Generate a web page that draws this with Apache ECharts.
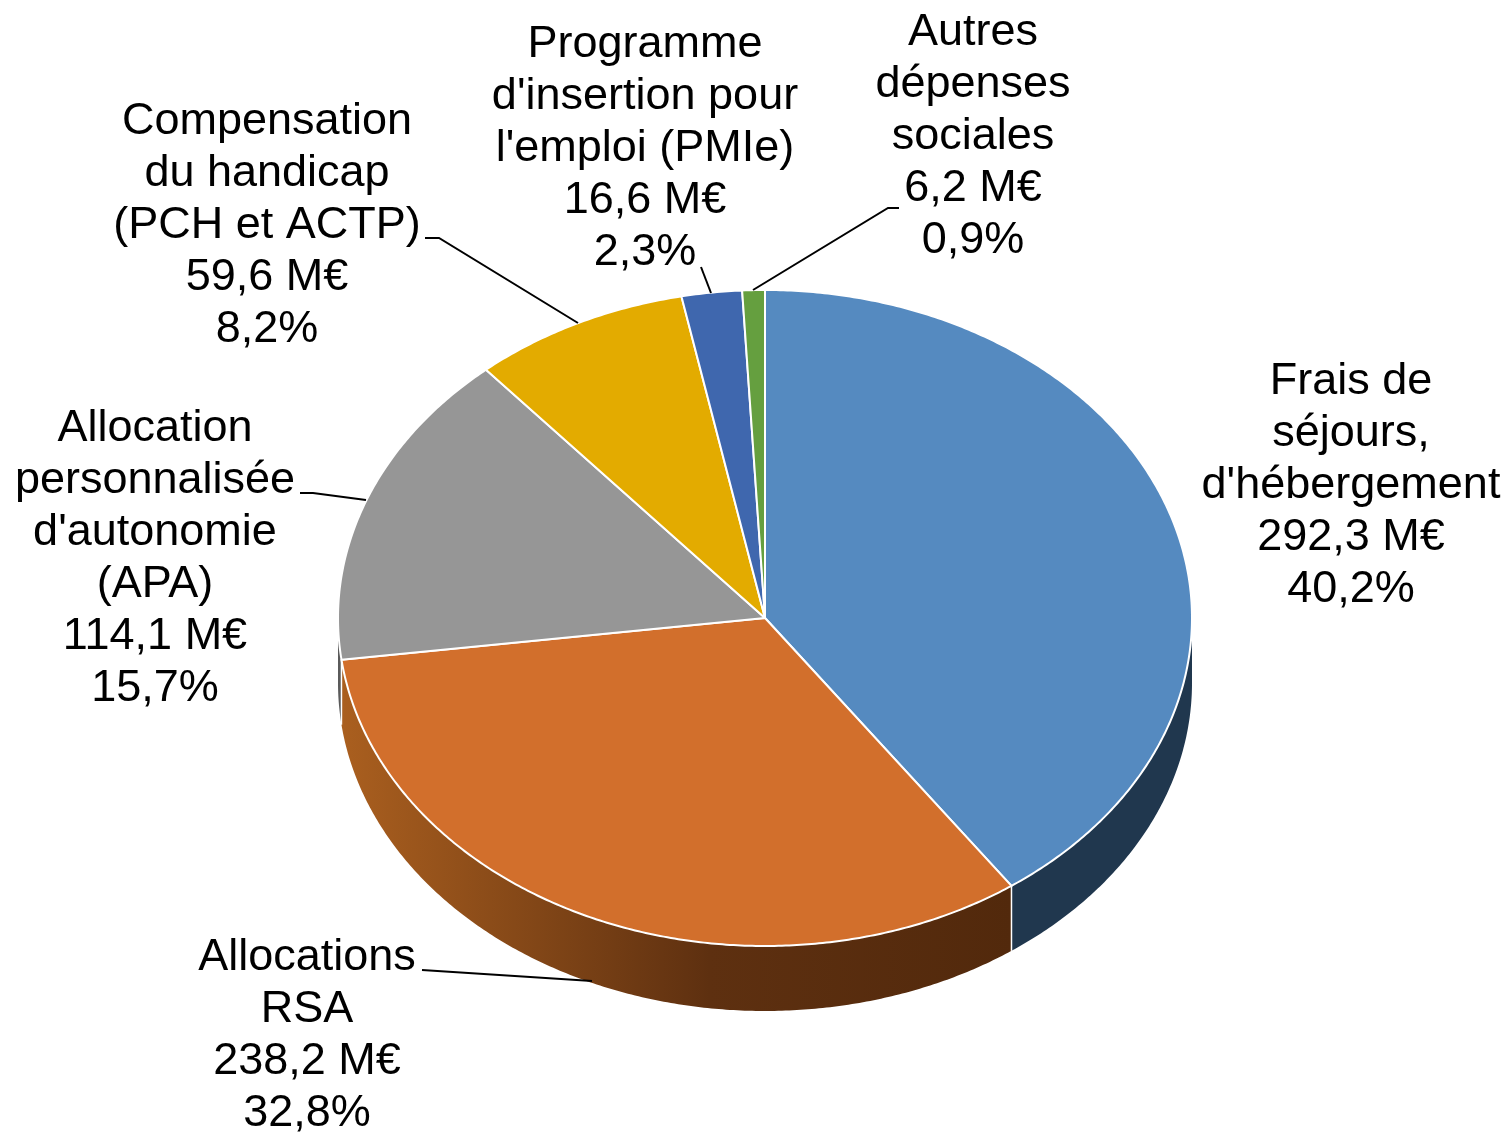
<!DOCTYPE html>
<html>
<head>
<meta charset="utf-8">
<title>Dépenses sociales</title>
<style>
  html, body { margin: 0; padding: 0; background: #fff; }
  #chart { width: 1506px; height: 1132px; }
</style>
<script src="https://cdn.jsdelivr.net/npm/echarts@6/dist/echarts.min.js"></script>
</head>
<body>
<div id="chart"></div>
<script>
const names = [
  "Frais de\nséjours,\nd'hébergement",
  'Allocations\nRSA',
  "Allocation\npersonnalisée\nd'autonomie\n(APA)",
  'Compensation\ndu handicap\n(PCH et ACTP)',
  "Programme\nd'insertion pour\nl'emploi (PMIe)",
  'Autres\ndépenses\nsociales'
]
const amounts = [292.3, 238.2, 114.1, 59.6, 16.6, 6.2]
const shares = ['40,2%', '32,8%', '15,7%', '8,2%', '2,3%', '0,9%']

const topColors = ['#558ac0', '#d26f2c', '#969696', '#e3ab00', '#3f67ae', '#659f3f']
const wallColors = [
  '#20374e',
  { type: 'linear', x: 0, y: 0, x2: 1, y2: 0, colorStops: [
    { offset: 0, color: '#aa5f1f' },
    { offset: 0.55, color: '#5e3010' },
    { offset: 1, color: '#52290c' }
  ] },
  '#5a5a5a', '#886700', '#263e68', '#3d5f26'
]

// label centres, then leader line points (empty = no leader)
const labelCenters = [[1351, 486], [307, 1036], [155, 559], [267, 226], [645, 149], [973, 137]]
const leaders = [
  [],
  [[422, 970], [592, 981]],
  [[300, 493], [313, 493], [366, 500]],
  [[425, 238], [439, 238], [578, 323]],
  [[701, 267], [711, 293]],
  [[899, 208], [888, 208], [753, 290]]
]

const cx = 765, cy = 618, rx = 427, ry = 328, depth = 65
const total = amounts.reduce((a, v) => a + v, 0)

function rimPoint (deg, dy) {
  const rad = deg * Math.PI / 180
  return [cx + rx * Math.sin(rad), cy - ry * Math.cos(rad) + dy]
}
function rim (from, to, dy) {
  const pts = []
  const steps = Math.max(2, Math.ceil(Math.abs(to - from) * 2))
  for (let i = 0; i <= steps; i++) pts.push(rimPoint(from + (to - from) * i / steps, dy))
  return pts
}

function renderSlice (params, api) {
  const i = params.dataIndex
  const before = amounts.slice(0, i).reduce((a, v) => a + v, 0)
  const start = before / total * 360
  const end = start + api.value(0) / total * 360
  const children = []

  // side wall, only the front half of the disc shows
  const wallFrom = Math.max(start, 90)
  const wallTo = Math.min(end, 270)
  if (wallTo > wallFrom) {
    children.push({
      type: 'polygon',
      shape: { points: rim(wallFrom, wallTo, 0).concat(rim(wallTo, wallFrom, depth)) },
      style: { fill: wallColors[i], stroke: null }
    })
    if (start > 90 && start < 270) {
      children.push({
        type: 'line',
        shape: { x1: rimPoint(start, 0)[0], y1: rimPoint(start, 0)[1], x2: rimPoint(start, depth)[0], y2: rimPoint(start, depth)[1] },
        style: { stroke: '#ffffff', lineWidth: 1.5 }
      })
    }
  }

  children.push({
    type: 'polygon',
    z2: 5,
    shape: { points: [[cx, cy]].concat(rim(start, end, 0)) },
    style: { fill: topColors[i], stroke: '#ffffff', lineWidth: 2, lineJoin: 'round' }
  })

  if (leaders[i].length) {
    children.push({
      type: 'polyline',
      z2: 6,
      shape: { points: leaders[i] },
      style: { fill: null, stroke: '#000000', lineWidth: 2 }
    })
  }

  const value = api.value(0).toFixed(1).replace('.', ',') + ' M€'
  children.push({
    type: 'text',
    z2: 7,
    x: labelCenters[i][0],
    y: labelCenters[i][1],
    style: {
      text: names[i] + '\n' + value + '\n' + shares[i],
      fontFamily: '"Liberation Sans", Arial, sans-serif',
      fontSize: 45,
      lineHeight: 52,
      fill: '#000000',
      align: 'center',
      verticalAlign: 'middle'
    }
  })
  return { type: 'group', children }
}

const chart = echarts.init(document.getElementById('chart'), null, { renderer: 'canvas' })
chart.setOption({
  animation: false,
  backgroundColor: '#ffffff',
  series: [{
    type: 'custom',
    coordinateSystem: 'none',
    renderItem: renderSlice,
    data: amounts.map(v => [v])
  }]
})
</script>
</body>
</html>
